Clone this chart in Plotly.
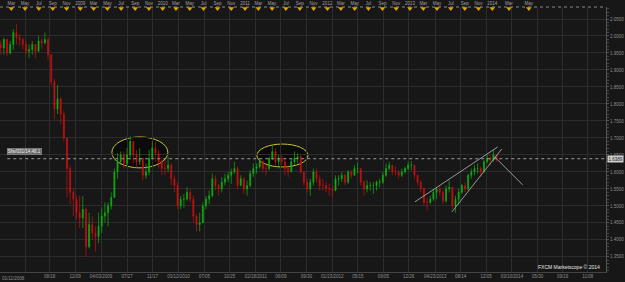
import plotly.graph_objects as go
import pandas as pd

# ---------------- data (bi-weekly candles) ----------------
first_open = 1.975
closes = [1.965,1.990,1.950,1.975,2.010,1.995,1.990,1.975,1.955,1.960,
          1.975,1.955,1.985,1.980,1.990,1.945,1.865,1.785,1.815,1.770,
          1.700,1.610,1.540,1.520,1.480,1.465,1.490,1.380,1.445,1.420,
          1.410,1.440,1.470,1.480,1.500,1.525,1.600,1.630,1.650,1.625,
          1.650,1.690,1.650,1.630,1.640,1.590,1.600,1.640,1.670,1.655,
          1.630,1.610,1.610,1.620,1.580,1.560,1.500,1.520,1.520,1.540,
          1.520,1.470,1.445,1.450,1.500,1.520,1.530,1.580,1.560,1.550,
          1.570,1.580,1.590,1.600,1.610,1.560,1.580,1.550,1.560,1.595,
          1.610,1.615,1.630,1.610,1.610,1.640,1.660,1.630,1.640,1.630,
          1.610,1.600,1.630,1.640,1.645,1.600,1.570,1.550,1.570,1.600,
          1.580,1.560,1.560,1.550,1.550,1.545,1.580,1.580,1.590,1.570,
          1.600,1.590,1.610,1.610,1.570,1.550,1.560,1.560,1.560,1.570,
          1.570,1.590,1.610,1.620,1.600,1.600,1.590,1.600,1.610,1.620,
          1.620,1.590,1.570,1.550,1.510,1.510,1.520,1.540,1.550,1.540,
          1.515,1.550,1.555,1.500,1.520,1.540,1.560,1.550,1.590,1.600,
          1.610,1.610,1.600,1.630,1.640,1.635,1.650,1.639]
highs = [1.985,1.995,1.985,1.985,2.020,2.035,2.005,1.995,1.985,1.975,
         1.985,1.975,2.000,1.995,2.010,1.995,1.945,1.875,1.855,1.820,
         1.780,1.700,1.620,1.550,1.530,1.530,1.530,1.495,1.480,1.470,
         1.440,1.480,1.495,1.510,1.510,1.540,1.610,1.655,1.660,1.660,
         1.670,1.705,1.690,1.665,1.670,1.640,1.625,1.665,1.690,1.690,
         1.665,1.640,1.635,1.645,1.625,1.590,1.570,1.530,1.535,1.555,
         1.550,1.530,1.475,1.480,1.510,1.530,1.545,1.595,1.590,1.565,
         1.585,1.595,1.600,1.610,1.630,1.615,1.590,1.585,1.575,1.605,
         1.625,1.625,1.640,1.635,1.625,1.645,1.678,1.670,1.650,1.650,
         1.640,1.620,1.640,1.660,1.655,1.650,1.600,1.580,1.580,1.610,
         1.610,1.590,1.580,1.570,1.565,1.560,1.590,1.590,1.600,1.595,
         1.605,1.605,1.620,1.628,1.610,1.575,1.575,1.570,1.570,1.575,
         1.580,1.600,1.625,1.630,1.620,1.615,1.605,1.610,1.615,1.630,
         1.632,1.620,1.590,1.575,1.555,1.525,1.530,1.550,1.555,1.560,
         1.545,1.560,1.575,1.555,1.530,1.550,1.565,1.570,1.595,1.610,
         1.620,1.625,1.615,1.635,1.650,1.645,1.665,1.650]
lows = [1.945,1.945,1.940,1.945,1.960,1.975,1.970,1.960,1.945,1.935,
        1.945,1.935,1.955,1.960,1.975,1.930,1.855,1.755,1.770,1.740,
        1.690,1.525,1.505,1.470,1.460,1.435,1.435,1.350,1.375,1.400,
        1.365,1.390,1.420,1.450,1.440,1.490,1.525,1.580,1.620,1.610,
        1.620,1.635,1.625,1.610,1.620,1.575,1.580,1.590,1.640,1.630,
        1.610,1.590,1.590,1.600,1.560,1.540,1.490,1.490,1.495,1.515,
        1.510,1.450,1.425,1.425,1.450,1.490,1.505,1.525,1.545,1.530,
        1.540,1.560,1.570,1.565,1.595,1.550,1.560,1.535,1.530,1.555,
        1.585,1.595,1.610,1.600,1.590,1.605,1.635,1.620,1.610,1.620,
        1.590,1.585,1.600,1.620,1.625,1.595,1.560,1.540,1.530,1.560,
        1.570,1.545,1.545,1.540,1.530,1.525,1.545,1.560,1.570,1.560,
        1.565,1.580,1.590,1.595,1.560,1.530,1.540,1.545,1.535,1.545,
        1.555,1.565,1.585,1.605,1.590,1.590,1.580,1.585,1.595,1.605,
        1.605,1.580,1.560,1.540,1.500,1.485,1.505,1.515,1.520,1.530,
        1.505,1.510,1.540,1.490,1.480,1.505,1.535,1.540,1.545,1.580,
        1.590,1.595,1.585,1.600,1.625,1.620,1.630,1.630]
dates = pd.date_range("2008-01-14", periods=len(closes), freq="14D")
opens = [first_open] + closes[:-1]

current_price = 1.6389

# bottom axis ticks
bottom_vals = ["2008-05-01","2008-08-18","2008-12-09","2009-04-03","2009-07-27","2009-11-17",
               "2010-03-12","2010-07-05","2010-10-25","2011-02-18","2011-06-09","2011-09-30",
               "2012-01-23","2012-05-15","2012-09-05","2012-12-26","2013-04-23","2013-08-14",
               "2013-12-05","2014-03-29","2014-07-21","2014-11-09","2015-02-28"]
bottom_text = ["","08/18","12/09","04/03/2009","07/27","11/17",
               "03/12/2010","07/05","10/25","02/18/2011","06/09","09/30",
               "01/23/2012","05/15","09/05","12/26","04/23/2013","08/14",
               "12/05","03/10/2014","05/30","09/19","11/08"]
# top axis month ticks
top_vals = ["2008-03-01","2008-05-01","2008-07-01","2008-09-01","2008-11-01",
            "2009-01-01","2009-03-01","2009-05-01","2009-07-01","2009-09-01","2009-11-01",
            "2010-01-01","2010-03-01","2010-05-01","2010-07-01","2010-09-01","2010-11-01",
            "2011-01-01","2011-03-01","2011-05-01","2011-07-01","2011-09-01","2011-11-01",
            "2012-01-01","2012-03-01","2012-05-01","2012-07-01","2012-09-01","2012-11-01",
            "2013-01-01","2013-03-01","2013-05-01","2013-07-01","2013-09-01","2013-11-01",
            "2014-01-01","2014-03-16","2014-06-12"]
top_text = ["Mar","May","Jul","Sep","Nov",
            "2009","Mar","May","Jul","Sep","Nov",
            "2010","Mar","May","Jul","Sep","Nov",
            "2011","Mar","May","Jul","Sep","Nov",
            "2012","Mar","May","Jul","Sep","Nov",
            "2013","Mar","May","Jul","Sep","Nov",
            "2014","Mar","May"]
y_vals = [1.35,1.40,1.45,1.50,1.55,1.60,1.65,1.70,1.75,1.80,1.85,1.90,1.95,2.00,2.05]
y_text = ["%.4f" % v for v in y_vals]

BG = "#171717"
GRID = "#2c2c2c"
TXT = "#8e8e8e"
FONT = "Liberation Sans"
XR = ["2008-01-11", "2015-05-20"]

fig = go.Figure()
fig.add_trace(go.Candlestick(
    x=dates, open=opens, high=highs, low=lows, close=closes,
    increasing=dict(line=dict(color="#10b010", width=0.7), fillcolor="#10b010"),
    decreasing=dict(line=dict(color="#c81010", width=0.7), fillcolor="#c81010"),
    whiskerwidth=0, showlegend=False, hoverinfo="skip"))

# top axis markers (yellow triangles)
fig.add_trace(go.Scatter(
    x=top_vals, y=[0.994] * len(top_vals), xaxis="x2", yaxis="y3", mode="markers",
    marker=dict(symbol="triangle-down", size=5, color="#e0a400", line=dict(width=0)),
    cliponaxis=False, showlegend=False, hoverinfo="skip"))

shapes = [
    # ellipses
    dict(type="circle", xref="x", yref="y", x0="2009-05-21", x1="2010-01-24", y0=1.612, y1=1.703,
         line=dict(color="#c9c23c", width=1), fillcolor="#0b0b0b", layer="below"),
    dict(type="circle", xref="x", yref="y", x0="2011-02-23", x1="2011-10-07", y0=1.6147, y1=1.682,
         line=dict(color="#c9c23c", width=1), fillcolor="#0b0b0b", layer="below"),
    # trend lines
    dict(type="line", xref="x", yref="y", x0="2013-01-23", y0=1.512, x1="2014-01-25", y1=1.6735,
         line=dict(color="#b8b8b8", width=0.8)),
    dict(type="line", xref="x", yref="y", x0="2013-07-06", y0=1.4824, x1="2014-02-12", y1=1.6676,
         line=dict(color="#b8b8b8", width=0.8)),
    dict(type="line", xref="x", yref="y", x0="2014-01-12", y0=1.644, x1="2014-05-16", y1=1.5618,
         line=dict(color="#b8b8b8", width=0.8)),
    # current price dotted line
    dict(type="line", xref="paper", yref="y", x0=0.012, x1=1, y0=current_price, y1=current_price,
         line=dict(color="#9a9a9a", width=1, dash="dot")),
    # top dotted border
    dict(type="line", xref="paper", yref="paper", x0=0, x1=1, y0=1, y1=1,
         line=dict(color="#8a8a8a", width=1, dash="dot")),
]

annotations = [
    dict(xref="paper", yref="paper", x=0, y=0, xanchor="left", yanchor="top", yshift=-1.5,
         text="01/11/2008", showarrow=False, font=dict(size=4.5, color=TXT, family=FONT)),
    dict(xref="paper", yref="y", x=1, y=current_price, xanchor="left", yanchor="middle", xshift=1,
         text="%.4f" % current_price, showarrow=False, bgcolor="#cfcfcf", borderpad=0.5,
         font=dict(size=4.5, color="#111111", family=FONT)),
    dict(xref="paper", yref="y", x=0.0116, y=1.6588, xanchor="left", yanchor="middle",
         text="Sfw/031/14,48.1", showarrow=False, bgcolor="#6a6a6a", bordercolor="#9a9a9a",
         borderwidth=0.5, borderpad=0.3, font=dict(size=4.5, color="#eeeeee", family=FONT)),
    dict(xref="paper", yref="paper", x=0.993, y=0.019, xanchor="right", yanchor="middle",
         text="FXCM Marketscope © 2014", showarrow=False,
         font=dict(size=5, color="#e8e8e8", family=FONT)),
]

fig.update_layout(
    width=625, height=282,
    margin=dict(l=0, r=19, t=7, b=10),
    paper_bgcolor=BG, plot_bgcolor=BG,
    font=dict(family=FONT, size=4.5, color=TXT),
    showlegend=False, boxgap=0.55,
    shapes=shapes, annotations=annotations,
    xaxis=dict(type="date", range=XR, tickmode="array", tickvals=bottom_vals, ticktext=bottom_text,
               showgrid=True, gridcolor=GRID, gridwidth=1, zeroline=False,
               showline=True, linecolor="#444444", ticks="", ticklen=0,
               tickfont=dict(size=4.5, color=TXT), rangeslider=dict(visible=False),
               fixedrange=True),
    xaxis2=dict(type="date", range=XR, overlaying="x", side="top", tickmode="array",
                tickvals=top_vals, ticktext=top_text, showgrid=False, zeroline=False,
                showline=False, ticks="", tickfont=dict(size=4.5, color="#a0a0a0"),
                fixedrange=True),
    yaxis=dict(side="right", range=[1.3056, 2.0853], tickmode="array", tickvals=y_vals,
               ticktext=y_text, showgrid=True, gridcolor=GRID, zeroline=False,
               showline=True, linecolor="#555555", ticks="outside", ticklen=2, tickcolor="#555555",
               minor=dict(ticks="outside", ticklen=1.5, tickcolor="#444444", dtick=0.01, showgrid=False),
               tickfont=dict(size=4.5, color=TXT), fixedrange=True),
    yaxis3=dict(overlaying="y", range=[0, 1], visible=False, fixedrange=True),
)

fig.write_html("out.html")
